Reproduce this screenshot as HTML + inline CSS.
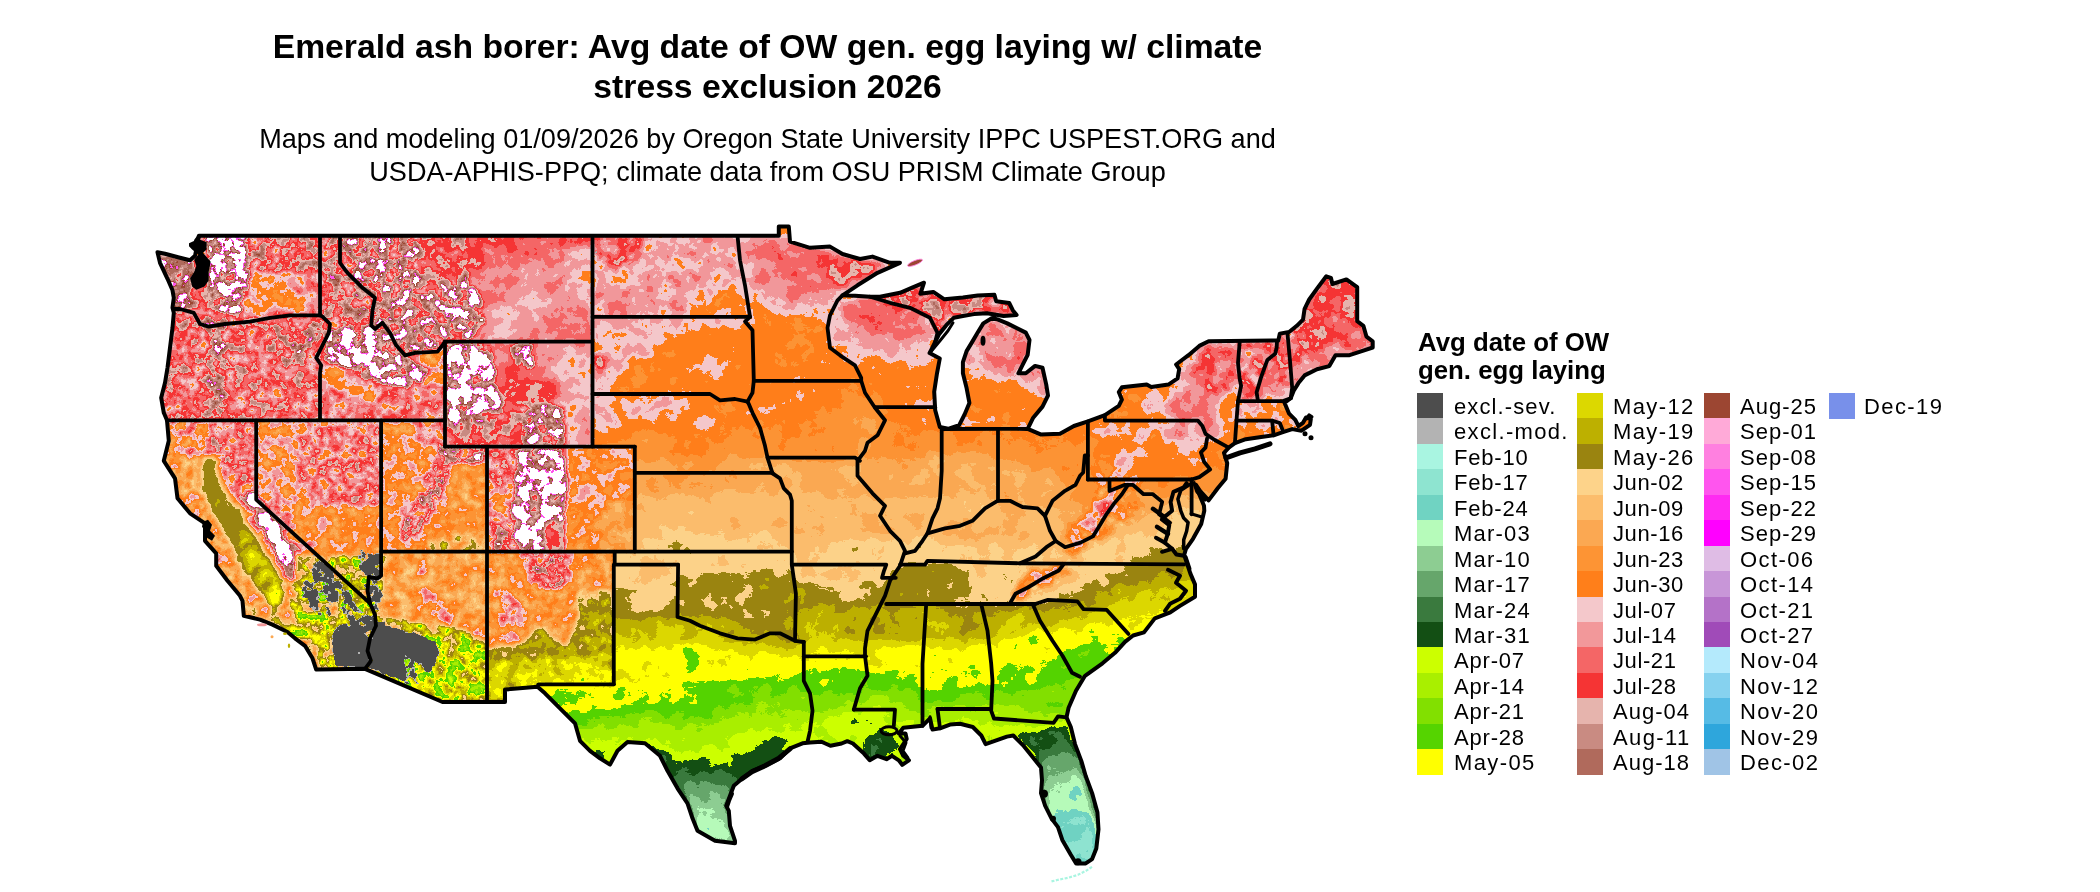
<!DOCTYPE html>
<html><head><meta charset="utf-8"><style>
html,body{margin:0;padding:0;background:#fff;width:2100px;height:892px;}
body{position:relative;font-family:"Liberation Sans",sans-serif;color:#000;}
.map{position:absolute;left:0;top:0;}
.t{position:absolute;left:0;width:1535px;text-align:center;white-space:nowrap;will-change:transform;}
.t1{font-weight:bold;font-size:33.7px;line-height:40px;}
.t2{font-size:27.1px;line-height:32.5px;}
.lt{position:absolute;left:1418px;font-weight:bold;font-size:25.8px;line-height:28.2px;white-space:nowrap;will-change:transform;}
.sw{position:absolute;width:26px;height:25.6px;}
.lb{position:absolute;font-size:22px;line-height:25.44px;height:25.44px;white-space:nowrap;will-change:transform;}
</style></head><body>
<svg class="map" width="2100" height="892" viewBox="0 0 2100 892">
<defs>
<clipPath id="us"><path d="M157.5,251.5 L165.0,253.0 L180.0,257.0 L190.0,259.5 L195.0,255.0 L197.0,245.0 L198.8,235.0 L778.8,235.0 L778.8,225.8 L788.8,225.8 L790.0,240.8 L810.0,247.0 L830.0,245.8 L842.5,253.2 L860.0,258.2 L872.5,255.8 L890.0,262.0 L900.0,262.0 L877.5,272.0 L857.5,284.5 L842.5,294.5 L855.0,295.0 L870.0,296.0 L880.0,296.0 L900.0,292.0 L911.0,287.4 L924.0,281.9 L920.4,293.0 L933.3,291.1 L944.4,298.5 L962.9,296.7 L977.7,294.8 L994.4,293.9 L996.2,300.4 L1009.2,302.2 L1012.9,309.6 L1016.6,314.2 L1003.6,315.2 L987.0,312.4 L974.0,313.3 L962.9,315.2 L953.7,317.0 L946.3,324.4 L938.9,333.7 L931.5,348.5 L929.6,352.2 L939.8,357.7 L937.0,372.5 L934.2,391.0 L935.2,409.5 L939.8,426.2 L948.1,428.0 L959.2,424.3 L964.8,413.2 L969.4,402.1 L966.6,387.3 L962.9,372.5 L962.9,361.4 L966.6,350.3 L972.2,341.1 L977.7,331.8 L983.3,322.6 L992.5,317.0 L998.1,318.9 L1007.3,322.6 L1025.8,331.8 L1029.5,339.2 L1027.7,354.0 L1022.1,365.1 L1018.4,372.5 L1025.8,372.5 L1035.1,365.1 L1042.5,367.0 L1046.2,383.6 L1048.0,394.7 L1042.5,405.8 L1033.2,416.9 L1027.7,428.0 L1040.6,433.6 L1060.0,433.0 L1073.9,425.2 L1087.9,420.6 L1104.9,414.4 L1118.8,405.1 L1121.9,398.9 L1118.8,391.2 L1121.9,386.5 L1146.7,383.8 L1151.3,386.2 L1168.4,383.8 L1177.6,377.6 L1179.2,368.4 L1176.1,363.7 L1188.5,354.4 L1199.3,345.1 L1208.6,340.5 L1278.3,339.7 L1279.8,332.8 L1289.1,331.2 L1296.8,325.0 L1303.0,318.8 L1304.6,308.0 L1309.2,298.7 L1317.0,287.9 L1326.3,275.5 L1330.9,277.0 L1332.4,283.2 L1346.4,278.6 L1357.2,286.3 L1357.2,320.4 L1363.4,325.0 L1366.5,335.9 L1372.7,340.5 L1372.7,346.7 L1363.4,349.8 L1349.5,354.4 L1335.5,354.4 L1329.3,365.3 L1317.0,368.4 L1304.6,374.6 L1298.4,382.3 L1293.7,390.0 L1290.7,397.4 L1284.5,402.0 L1289.1,412.9 L1295.3,419.1 L1298.4,425.2 L1303.0,422.0 L1306.0,416.7 L1310.8,418.3 L1310.0,424.0 L1301.5,429.9 L1292.2,428.3 L1282.9,431.4 L1273.6,434.5 L1261.2,436.1 L1245.8,438.4 L1234.9,442.3 L1228.7,446.9 L1224.0,452.0 L1227.2,462.4 L1225.6,477.9 L1217.9,487.2 L1208.6,499.6 L1200.0,490.0 L1196.0,484.0 L1199.0,493.0 L1204.0,505.0 L1204.3,510.0 L1201.2,523.2 L1193.0,538.0 L1186.0,548.0 L1184.2,554.2 L1190.4,572.8 L1195.0,583.6 L1195.0,596.0 L1179.6,605.3 L1170.3,611.5 L1154.8,617.6 L1144.0,631.6 L1133.1,634.7 L1125.0,641.0 L1115.0,652.0 L1102.5,662.5 L1085.0,675.0 L1076.0,690.0 L1068.6,707.0 L1066.5,716.6 L1070.8,726.2 L1075.0,743.3 L1081.4,760.3 L1085.7,775.2 L1092.1,792.3 L1097.4,811.4 L1098.5,828.5 L1096.3,847.6 L1092.1,858.3 L1085.7,862.6 L1076.1,862.6 L1070.8,854.0 L1062.3,839.1 L1058.0,826.3 L1051.6,817.8 L1045.2,805.0 L1041.0,792.3 L1042.0,779.5 L1041.0,766.7 L1032.4,756.0 L1023.9,745.4 L1013.3,734.7 L1006.9,735.8 L992.0,741.1 L985.6,743.3 L981.3,734.7 L972.8,726.2 L960.0,723.0 L950.0,723.8 L940.0,727.5 L932.5,728.8 L930.0,717.5 L922.5,725.0 L903.3,727.0 L898.8,732.6 L905.5,732.6 L906.7,738.2 L900.0,748.3 L903.3,755.0 L908.9,759.5 L902.2,764.0 L898.8,759.5 L892.0,755.0 L886.5,758.4 L877.5,755.0 L869.7,759.5 L864.0,752.8 L852.9,742.7 L847.3,740.4 L841.6,742.7 L830.4,745.0 L821.5,741.0 L810.0,741.6 L802.5,742.5 L790.0,747.5 L780.0,757.5 L765.0,765.0 L752.5,770.0 L742.5,777.5 L733.8,785.0 L730.0,795.0 L726.2,805.0 L728.8,810.0 L730.0,825.0 L735.0,840.0 L735.0,842.5 L715.0,840.0 L697.5,830.0 L692.5,817.5 L687.5,802.5 L677.5,787.5 L667.5,770.0 L660.0,755.0 L645.0,742.5 L627.5,741.2 L617.5,750.0 L610.0,763.8 L600.0,757.5 L590.0,750.0 L580.0,740.0 L575.0,722.5 L560.0,707.5 L545.0,692.5 L537.5,686.0 L505.0,688.8 L505.0,701.2 L442.5,701.2 L365.0,668.0 L316.2,668.8 L312.5,657.5 L305.0,645.0 L295.0,637.5 L287.5,631.2 L272.5,623.8 L260.0,618.8 L243.8,615.0 L242.5,600.0 L240.0,595.0 L227.5,580.0 L216.2,565.0 L216.2,552.5 L205.0,540.0 L205.0,522.5 L190.0,512.5 L177.5,497.5 L175.0,477.5 L163.8,460.0 L168.8,440.0 L167.0,419.5 L163.8,412.0 L161.2,397.0 L165.0,382.0 L167.5,367.0 L170.0,347.0 L172.5,327.0 L173.8,312.0 L172.5,307.0 L173.8,297.0 L172.5,289.5 L167.5,278.0 L160.0,262.0 Z"/></clipPath>
<clipPath id="wr"><path d="M140.0,200.0 L592.5,200.0 L592.5,445.8 L634.8,445.8 L634.8,550.8 L614.7,550.8 L613.8,683.5 L538.3,683.5 L538.3,900.0 L140.0,900.0 Z"/></clipPath>
<filter id="fe" x="140" y="200" width="1260" height="700" filterUnits="userSpaceOnUse" color-interpolation-filters="sRGB">
<feGaussianBlur in="SourceGraphic" stdDeviation="4" result="b"/>
<feColorMatrix in="b" type="matrix" values="1 0 0 0 0 1 0 0 0 0 1 0 0 0 0 0 0 0 0 1" result="base"/>
<feColorMatrix in="b" type="matrix" values="0 1 0 0 0 0 1 0 0 0 0 1 0 0 0 0 0 0 0 1" result="ah"/>
<feColorMatrix in="b" type="matrix" values="0 0 1 0 0 0 0 1 0 0 0 0 1 0 0 0 0 0 0 1" result="al"/>
<feTurbulence type="fractalNoise" baseFrequency="0.07" numOctaves="3" seed="7"/>
<feColorMatrix type="matrix" values="1 0 0 0 0 1 0 0 0 0 1 0 0 0 0 0 0 0 0 1" result="nh"/>
<feTurbulence type="fractalNoise" baseFrequency="0.018" numOctaves="3" seed="3"/>
<feColorMatrix type="matrix" values="1 0 0 0 0 1 0 0 0 0 1 0 0 0 0 0 0 0 0 1" result="nl"/>
<feComposite in="nh" in2="ah" operator="arithmetic" k1="1" k2="0" k3="-0.5" k4="0.5" result="th"/>
<feComposite in="nl" in2="al" operator="arithmetic" k1="1" k2="0" k3="-0.5" k4="0.5" result="tl"/>
<feComposite in="base" in2="th" operator="arithmetic" k1="0" k2="1" k3="1.0" k4="-0.5" result="f1"/>
<feComposite in="f1" in2="tl" operator="arithmetic" k1="0" k2="1" k3="1.0" k4="-0.5" result="f2"/>
<feComponentTransfer in="f2">
<feFuncR type="discrete" tableValues="0.663 0.663 0.557 0.557 0.439 0.439 0.714 0.714 0.553 0.553 0.400 0.400 0.227 0.227 0.075 0.075 0.800 0.800 0.663 0.663 0.510 0.510 0.333 0.333 1.000 1.000 0.863 0.863 0.741 0.741 0.604 0.604 0.992 0.992 0.988 0.988 0.984 0.984 0.992 0.992 1.000 1.000 0.957 0.957 0.949 0.949 0.957 0.957 0.961 0.961 0.902 0.902 0.788 0.788 0.690 0.690 0.612 1.000 1.000 1.000 1.000 1.000 1.000 1.000 1.000 1.000"/>
<feFuncG type="discrete" tableValues="0.961 0.961 0.894 0.894 0.827 0.827 0.984 0.984 0.804 0.804 0.651 0.651 0.478 0.478 0.310 0.310 1.000 1.000 0.937 0.937 0.878 0.878 0.831 0.831 1.000 1.000 0.847 0.847 0.690 0.690 0.518 0.518 0.827 0.827 0.741 0.741 0.659 0.659 0.580 0.580 0.498 0.498 0.784 0.784 0.596 0.596 0.400 0.400 0.204 0.204 0.706 0.706 0.545 0.545 0.416 0.416 0.275 0.333 1.000 1.000 1.000 1.000 1.000 1.000 1.000 1.000"/>
<feFuncB type="discrete" tableValues="0.882 0.882 0.816 0.816 0.761 0.761 0.729 0.729 0.573 0.573 0.420 0.420 0.243 0.243 0.078 0.078 0.000 0.000 0.000 0.000 0.000 0.000 0.000 0.000 0.000 0.000 0.000 0.000 0.000 0.000 0.063 0.063 0.541 0.541 0.424 0.424 0.322 0.322 0.204 0.204 0.102 0.102 0.796 0.796 0.604 0.604 0.400 0.400 0.204 0.204 0.678 0.678 0.510 0.510 0.361 0.361 0.196 0.933 1.000 1.000 1.000 1.000 1.000 1.000 1.000 1.000"/>
<feFuncA type="linear" slope="0" intercept="1"/>
</feComponentTransfer>
</filter>
<filter id="fw" x="140" y="200" width="1260" height="700" filterUnits="userSpaceOnUse" color-interpolation-filters="sRGB">
<feGaussianBlur in="SourceGraphic" stdDeviation="2.0" result="b"/>
<feColorMatrix in="b" type="matrix" values="1 0 0 0 0 1 0 0 0 0 1 0 0 0 0 0 0 0 0 1" result="base"/>
<feColorMatrix in="b" type="matrix" values="0 1 0 0 0 0 1 0 0 0 0 1 0 0 0 0 0 0 0 1" result="ah"/>
<feColorMatrix in="b" type="matrix" values="0 0 1 0 0 0 0 1 0 0 0 0 1 0 0 0 0 0 0 1" result="al"/>
<feTurbulence type="fractalNoise" baseFrequency="0.085" numOctaves="4" seed="5"/>
<feColorMatrix type="matrix" values="1 0 0 0 0 1 0 0 0 0 1 0 0 0 0 0 0 0 0 1" result="nh"/>
<feTurbulence type="fractalNoise" baseFrequency="0.02" numOctaves="2" seed="9"/>
<feColorMatrix type="matrix" values="1 0 0 0 0 1 0 0 0 0 1 0 0 0 0 0 0 0 0 1" result="nl"/>
<feComposite in="nh" in2="ah" operator="arithmetic" k1="1" k2="0" k3="-0.5" k4="0.5" result="th"/>
<feComposite in="nl" in2="al" operator="arithmetic" k1="1" k2="0" k3="-0.5" k4="0.5" result="tl"/>
<feComposite in="base" in2="th" operator="arithmetic" k1="0" k2="1" k3="1.0" k4="-0.5" result="f1"/>
<feComposite in="f1" in2="tl" operator="arithmetic" k1="0" k2="1" k3="1.0" k4="-0.5" result="f2"/>
<feComponentTransfer in="f2">
<feFuncR type="discrete" tableValues="0.663 0.663 0.557 0.557 0.439 0.439 0.714 0.714 0.553 0.553 0.400 0.400 0.227 0.227 0.075 0.075 0.800 0.800 0.663 0.663 0.510 0.510 0.333 0.333 1.000 1.000 0.863 0.863 0.741 0.741 0.604 0.604 0.992 0.992 0.988 0.988 0.984 0.984 0.992 0.992 1.000 1.000 0.957 0.957 0.949 0.949 0.957 0.957 0.961 0.961 0.902 0.902 0.788 0.788 0.690 0.690 0.612 1.000 1.000 1.000 1.000 1.000 1.000 1.000 1.000 1.000"/>
<feFuncG type="discrete" tableValues="0.961 0.961 0.894 0.894 0.827 0.827 0.984 0.984 0.804 0.804 0.651 0.651 0.478 0.478 0.310 0.310 1.000 1.000 0.937 0.937 0.878 0.878 0.831 0.831 1.000 1.000 0.847 0.847 0.690 0.690 0.518 0.518 0.827 0.827 0.741 0.741 0.659 0.659 0.580 0.580 0.498 0.498 0.784 0.784 0.596 0.596 0.400 0.400 0.204 0.204 0.706 0.706 0.545 0.545 0.416 0.416 0.275 0.333 1.000 1.000 1.000 1.000 1.000 1.000 1.000 1.000"/>
<feFuncB type="discrete" tableValues="0.882 0.882 0.816 0.816 0.761 0.761 0.729 0.729 0.573 0.573 0.420 0.420 0.243 0.243 0.078 0.078 0.000 0.000 0.000 0.000 0.000 0.000 0.000 0.000 0.000 0.000 0.000 0.000 0.000 0.000 0.063 0.063 0.541 0.541 0.424 0.424 0.322 0.322 0.204 0.204 0.102 0.102 0.796 0.796 0.604 0.604 0.400 0.400 0.204 0.204 0.678 0.678 0.510 0.510 0.361 0.361 0.196 0.933 1.000 1.000 1.000 1.000 1.000 1.000 1.000 1.000"/>
<feFuncA type="linear" slope="0" intercept="1"/>
</feComponentTransfer>
</filter>
<filter id="fg" x="140" y="200" width="1260" height="700" filterUnits="userSpaceOnUse" color-interpolation-filters="sRGB">
<feGaussianBlur in="SourceGraphic" stdDeviation="2" result="b"/>
<feColorMatrix in="b" type="matrix" values="1 0 0 0 0 1 0 0 0 0 1 0 0 0 0 0 0 0 0 1" result="base"/>
<feTurbulence type="fractalNoise" baseFrequency="0.11" numOctaves="3" seed="11"/>
<feColorMatrix type="matrix" values="1 0 0 0 0 1 0 0 0 0 1 0 0 0 0 0 0 0 0 1" result="n"/>
<feComposite in="base" in2="n" operator="arithmetic" k1="0" k2="1" k3="1.0" k4="-0.5" result="v"/>
<feColorMatrix in="v" type="matrix" values="1 0 0 0 0 1 0 0 0 0 1 0 0 0 0 1 0 0 0 0"/>
<feComponentTransfer>
<feFuncR type="discrete" tableValues="0 0 0 0 0 0 0 0 0 0.702 0.302 0.302 0.302 0.302 0.302 0.302 0.302 0.302 0.302 0.302"/>
<feFuncG type="discrete" tableValues="0 0 0 0 0 0 0 0 0 0.702 0.302 0.302 0.302 0.302 0.302 0.302 0.302 0.302 0.302 0.302"/>
<feFuncB type="discrete" tableValues="0 0 0 0 0 0 0 0 0 0.702 0.302 0.302 0.302 0.302 0.302 0.302 0.302 0.302 0.302 0.302"/>
<feFuncA type="discrete" tableValues="0 0 0 0 0 0 0 0 0 1 1 1 1 1 1 1 1 1 1 1"/>
</feComponentTransfer>
</filter>
</defs>
<g transform="translate(0,0.8)">
<g clip-path="url(#us)">
<g filter="url(#fe)">
<polygon points="520.0,200.0 1400.0,200.0 1400.0,900.0 520.0,900.0" fill="rgb(157,13,20)"/>
<polygon points="520.0,455.0 600.0,445.0 650.0,435.0 700.0,430.0 740.0,425.0 770.0,415.0 800.0,412.0 850.0,410.0 870.0,420.0 900.0,425.0 940.0,428.0 1000.0,428.0 1050.0,440.0 1088.0,445.0 1088.0,480.0 1150.0,480.0 1200.0,470.0 1240.0,455.0 1400.0,455.0 1400.0,900.0 520.0,900.0" fill="rgb(151,13,20)"/>
<polygon points="520.0,478.0 600.0,470.0 640.0,462.0 700.0,456.0 760.0,458.0 800.0,462.0 850.0,462.0 900.0,455.0 940.0,452.0 970.0,448.0 1000.0,462.0 1050.0,470.0 1088.0,485.0 1150.0,492.0 1200.0,490.0 1400.0,490.0 1400.0,900.0 520.0,900.0" fill="rgb(143,13,20)"/>
<polygon points="520.0,505.0 640.0,495.0 700.0,490.0 780.0,492.0 850.0,495.0 900.0,497.0 940.0,492.0 1000.0,502.0 1040.0,505.0 1088.0,508.0 1150.0,508.0 1200.0,500.0 1400.0,500.0 1400.0,900.0 520.0,900.0" fill="rgb(135,13,20)"/>
<polygon points="520.0,555.0 600.0,545.0 650.0,540.0 700.0,536.0 760.0,530.0 800.0,535.0 850.0,540.0 880.0,535.0 920.0,535.0 960.0,540.0 1000.0,540.0 1040.0,545.0 1100.0,540.0 1150.0,528.0 1180.0,515.0 1400.0,515.0 1400.0,900.0 520.0,900.0" fill="rgb(128,13,20)"/>
<polygon points="520.0,600.0 600.0,588.0 640.0,585.0 680.0,572.0 720.0,572.0 760.0,570.0 790.0,572.0 800.0,578.0 830.0,580.0 865.0,578.0 880.0,572.0 900.0,565.0 940.0,564.0 975.0,568.0 985.0,585.0 1000.0,605.0 1040.0,603.0 1060.0,590.0 1080.0,580.0 1110.0,570.0 1140.0,556.0 1160.0,546.0 1400.0,540.0 1400.0,900.0 520.0,900.0" fill="rgb(120,13,20)"/>
<polygon points="520.0,622.0 600.0,614.0 650.0,618.0 700.0,615.0 750.0,622.0 790.0,615.0 830.0,606.0 870.0,605.0 900.0,605.0 940.0,604.0 1000.0,610.0 1040.0,606.0 1060.0,604.0 1100.0,590.0 1140.0,578.0 1180.0,575.0 1400.0,575.0 1400.0,900.0 520.0,900.0" fill="rgb(112,13,20)"/>
<polygon points="520.0,640.0 600.0,636.0 650.0,642.0 700.0,640.0 750.0,640.0 800.0,642.0 850.0,640.0 900.0,640.0 950.0,643.0 1000.0,638.0 1040.0,626.0 1080.0,615.0 1120.0,602.0 1150.0,592.0 1190.0,588.0 1400.0,588.0 1400.0,900.0 520.0,900.0" fill="rgb(104,13,20)"/>
<polygon points="520.0,652.0 600.0,652.0 640.0,650.0 660.0,645.0 700.0,645.0 760.0,650.0 800.0,655.0 840.0,655.0 880.0,645.0 920.0,645.0 960.0,648.0 1000.0,640.0 1040.0,632.0 1080.0,625.0 1110.0,618.0 1140.0,612.0 1400.0,610.0 1400.0,900.0 520.0,900.0" fill="rgb(97,13,20)"/>
<polygon points="520.0,692.0 600.0,690.0 630.0,683.0 660.0,682.0 700.0,680.0 740.0,680.0 780.0,678.0 810.0,666.0 850.0,666.0 880.0,668.0 910.0,670.0 950.0,669.0 990.0,668.0 1020.0,665.0 1050.0,655.0 1070.0,648.0 1100.0,640.0 1400.0,640.0 1400.0,900.0 520.0,900.0" fill="rgb(89,13,20)"/>
<polygon points="520.0,715.0 600.0,712.0 650.0,710.0 700.0,710.0 750.0,705.0 800.0,690.0 850.0,692.0 900.0,690.0 950.0,690.0 1000.0,690.0 1040.0,690.0 1070.0,680.0 1400.0,680.0 1400.0,900.0 520.0,900.0" fill="rgb(81,13,20)"/>
<polygon points="520.0,730.0 650.0,725.0 700.0,722.0 760.0,715.0 820.0,705.0 880.0,705.0 940.0,705.0 1000.0,705.0 1040.0,710.0 1400.0,710.0 1400.0,900.0 520.0,900.0" fill="rgb(73,13,20)"/>
<polygon points="520.0,745.0 640.0,742.0 680.0,738.0 720.0,735.0 760.0,730.0 800.0,720.0 850.0,715.0 900.0,718.0 950.0,718.0 1000.0,720.0 1040.0,726.0 1400.0,726.0 1400.0,900.0 520.0,900.0" fill="rgb(66,13,20)"/>
<polygon points="640.0,748.0 654.0,747.0 676.0,757.0 701.0,752.0 728.0,755.0 745.0,750.0 760.0,744.0 776.0,735.0 790.0,736.0 815.0,738.0 800.0,752.0 780.0,762.0 760.0,772.0 745.0,782.0 735.0,790.0 700.0,790.0 680.0,778.0 665.0,770.0" fill="rgb(56,13,20)"/>
<polygon points="665.0,767.0 692.0,762.0 718.0,767.0 735.0,774.0 745.0,782.0 731.0,789.0 717.0,786.0 701.0,781.0 684.0,777.0 672.0,781.0" fill="rgb(50,13,20)"/>
<polygon points="670.0,780.0 684.0,777.0 701.0,781.0 717.0,786.0 731.0,789.0 735.0,800.0 727.0,804.0 718.0,804.0 701.0,801.0 687.0,797.0" fill="rgb(42,13,20)"/>
<polygon points="684.0,795.0 701.0,801.0 718.0,804.0 728.0,804.0 735.0,815.0 731.0,821.0 721.0,819.0 709.0,821.0 694.0,818.0" fill="rgb(35,13,20)"/>
<polygon points="690.0,815.0 709.0,821.0 721.0,819.0 731.0,821.0 740.0,848.0 700.0,845.0" fill="rgb(27,13,20)"/>
<polygon points="864.0,735.0 885.0,729.0 899.0,733.0 903.0,760.0 880.0,764.0 864.0,760.0" fill="rgb(56,13,20)"/>
<polygon points="1015.0,735.0 1040.0,728.0 1055.0,724.0 1070.0,718.0 1075.0,735.0 1072.0,742.0 1050.0,748.0 1040.0,752.0 1030.0,752.0" fill="rgb(56,13,20)"/>
<polygon points="1035.0,752.0 1050.0,748.0 1072.0,742.0 1078.0,752.0 1060.0,757.0 1040.0,760.0" fill="rgb(50,13,20)"/>
<polygon points="1038.0,760.0 1060.0,757.0 1078.0,752.0 1083.0,766.0 1060.0,770.0 1040.0,772.0" fill="rgb(42,13,20)"/>
<polygon points="1040.0,772.0 1060.0,770.0 1083.0,766.0 1086.0,778.0 1060.0,780.0 1040.0,782.0" fill="rgb(35,13,20)"/>
<polygon points="1040.0,782.0 1060.0,780.0 1086.0,778.0 1094.0,812.0 1060.0,815.0 1045.0,816.0" fill="rgb(27,13,20)"/>
<polygon points="1045.0,816.0 1060.0,815.0 1094.0,812.0 1100.0,836.0 1080.0,838.0 1055.0,840.0" fill="rgb(19,13,20)"/>
<polygon points="1055.0,840.0 1080.0,838.0 1100.0,836.0 1100.0,872.0 1055.0,872.0" fill="rgb(12,13,20)"/>
<polygon points="592.0,230.0 745.0,230.0 750.0,316.0 592.0,316.0" fill="rgb(170,38,20)"/>
<polygon points="592.0,236.0 640.0,236.0 650.0,250.0 630.0,262.0 600.0,268.0 592.0,265.0" fill="rgb(182,76,20)"/>
<polygon points="700.0,292.0 745.0,280.0 752.0,316.0 690.0,316.0" fill="rgb(158,26,20)"/>
<polygon points="592.0,316.0 745.0,316.0 740.0,322.0 700.0,328.0 670.0,335.0 660.0,350.0 640.0,362.0 620.0,370.0 612.0,380.0 600.0,392.0 592.0,392.0" fill="rgb(166,26,20)"/>
<polygon points="593.0,352.0 605.0,352.0 606.0,368.0 595.0,370.0" fill="rgb(205,102,20)"/>
<polygon points="592.0,394.0 690.0,394.0 680.0,405.0 650.0,418.0 610.0,425.0 592.0,428.0" fill="rgb(166,26,20)"/>
<polygon points="738.0,236.0 790.0,236.0 800.0,250.0 845.0,280.0 842.0,296.0 830.0,315.0 830.0,322.0 800.0,322.0 782.0,318.0 760.0,300.0 745.0,280.0 738.0,270.0" fill="rgb(166,26,20)"/>
<polygon points="750.0,240.0 790.0,240.0 840.0,262.0 842.0,296.0 830.0,312.0 790.0,305.0 760.0,285.0 752.0,260.0" fill="rgb(174,26,20)"/>
<polygon points="765.0,240.0 790.0,240.0 830.0,252.0 845.0,270.0 840.0,290.0 815.0,290.0 790.0,280.0 770.0,260.0" fill="rgb(182,26,20)"/>
<polygon points="815.0,250.0 860.0,258.0 875.0,262.0 860.0,280.0 845.0,290.0 830.0,285.0" fill="rgb(189,38,20)"/>
<polygon points="848.0,262.0 890.0,262.0 875.0,275.0 850.0,282.0" fill="rgb(197,51,20)"/>
<polygon points="830.0,300.0 870.0,296.0 930.0,318.0 937.0,340.0 935.0,365.0 920.0,362.0 890.0,356.0 870.0,352.0 850.0,340.0 830.0,342.0" fill="rgb(166,26,20)"/>
<polygon points="838.0,300.0 870.0,296.0 925.0,318.0 930.0,338.0 900.0,345.0 860.0,335.0 840.0,325.0" fill="rgb(174,26,20)"/>
<polygon points="845.0,300.0 870.0,297.0 910.0,310.0 925.0,330.0 900.0,336.0 870.0,330.0 850.0,318.0" fill="rgb(182,26,20)"/>
<polygon points="870.0,285.0 1020.0,285.0 1020.0,318.0 940.0,335.0 930.0,318.0 880.0,302.0" fill="rgb(189,76,20)"/>
<polygon points="950.0,310.0 1000.0,313.0 990.0,318.0 945.0,330.0" fill="rgb(182,76,20)"/>
<polygon points="960.0,310.0 1050.0,310.0 1050.0,398.0 1045.0,395.0 1030.0,385.0 1020.0,378.0 1000.0,376.0 975.0,378.0 962.0,385.0" fill="rgb(174,38,20)"/>
<polygon points="962.0,360.0 1000.0,366.0 1030.0,372.0 1046.0,390.0 1030.0,385.0 1020.0,378.0 1000.0,376.0 975.0,378.0 962.0,385.0" fill="rgb(166,26,20)"/>
<polygon points="1120.0,385.0 1175.0,375.0 1200.0,340.0 1240.0,338.0 1240.0,445.0 1228.0,447.0 1214.0,439.0 1205.0,433.0 1198.0,420.0 1170.0,412.0 1140.0,408.0 1120.0,405.0" fill="rgb(168,31,20)"/>
<polygon points="1118.0,384.0 1185.0,380.0 1185.0,395.0 1150.0,398.0 1140.0,412.0 1118.0,412.0" fill="rgb(158,26,20)"/>
<polygon points="1222.0,388.0 1240.0,385.0 1240.0,450.0 1222.0,450.0 1214.0,425.0" fill="rgb(157,26,20)"/>
<polygon points="1197.0,347.0 1233.0,345.0 1235.0,390.0 1205.0,392.0 1195.0,370.0" fill="rgb(185,51,20)"/>
<polygon points="1170.0,400.0 1215.0,400.0 1215.0,430.0 1170.0,425.0" fill="rgb(174,26,20)"/>
<polygon points="1239.0,338.0 1277.0,336.0 1262.0,378.0 1258.0,400.0 1239.0,400.0" fill="rgb(182,76,20)"/>
<polygon points="1273.0,333.0 1295.0,325.0 1292.0,385.0 1285.0,400.0 1262.0,400.0 1262.0,378.0" fill="rgb(182,76,20)"/>
<polygon points="1262.0,385.0 1292.0,385.0 1290.0,400.0 1262.0,400.0" fill="rgb(170,38,20)"/>
<polygon points="1290.0,330.0 1310.0,295.0 1330.0,268.0 1365.0,275.0 1362.0,320.0 1330.0,340.0 1300.0,345.0" fill="rgb(189,38,20)"/>
<polygon points="1300.0,340.0 1362.0,318.0 1378.0,345.0 1350.0,352.0 1320.0,360.0 1300.0,370.0" fill="rgb(182,38,20)"/>
<polygon points="1292.0,358.0 1320.0,352.0 1378.0,345.0 1360.0,358.0 1320.0,372.0 1295.0,392.0" fill="rgb(174,38,20)"/>
<polygon points="1292.0,328.0 1312.0,328.0 1312.0,361.0 1292.0,361.0" fill="rgb(193,76,20)"/>
<polygon points="1239.0,399.0 1256.0,399.0 1256.0,419.0 1239.0,419.0" fill="rgb(166,51,20)"/>
<polygon points="1256.0,397.0 1292.0,396.0 1300.0,410.0 1315.0,418.0 1300.0,436.0 1260.0,444.0 1236.0,446.0 1236.0,424.0 1256.0,420.0" fill="rgb(155,38,20)"/>
<polygon points="1088.0,420.0 1198.0,420.0 1205.0,433.0 1200.0,442.0 1180.0,440.0 1150.0,438.0 1120.0,436.0 1095.0,438.0 1088.0,438.0" fill="rgb(166,38,20)"/>
<polygon points="1108.0,478.0 1118.0,478.0 1135.0,458.0 1158.0,440.0 1150.0,436.0 1128.0,448.0 1110.0,465.0" fill="rgb(166,38,20)"/>
<polygon points="1100.0,470.0 1130.0,470.0 1140.0,485.0 1125.0,500.0 1108.0,512.0 1085.0,530.0 1070.0,540.0 1060.0,535.0 1080.0,515.0 1095.0,495.0" fill="rgb(160,76,20)"/>
<polygon points="1070.0,538.0 1100.0,525.0 1120.0,510.0 1135.0,500.0 1145.0,502.0 1130.0,520.0 1105.0,535.0 1085.0,548.0 1070.0,556.0 1062.0,550.0" fill="rgb(152,76,20)"/>
<polygon points="1085.0,525.0 1100.0,510.0 1110.0,502.0 1115.0,504.0 1105.0,518.0 1092.0,530.0" fill="rgb(174,128,20)"/>
<polygon points="1030.0,570.0 1060.0,562.0 1080.0,558.0 1075.0,566.0 1055.0,580.0 1035.0,592.0 1015.0,600.0 1010.0,598.0 1020.0,585.0" fill="rgb(154,102,20)"/>
<polygon points="1040.0,580.0 1058.0,568.0 1062.0,571.0 1045.0,585.0" fill="rgb(174,128,20)"/>
</g>
<g clip-path="url(#wr)"><g filter="url(#fw)">
<polygon points="140.0,200.0 640.0,200.0 640.0,900.0 140.0,900.0" fill="rgb(155,71,0)"/>
<polygon points="150.0,245.0 195.0,250.0 195.0,310.0 170.0,315.0 150.0,300.0" fill="rgb(211,89,0)"/>
<polygon points="193.0,255.0 212.0,255.0 214.0,310.0 195.0,312.0" fill="rgb(185,54,0)"/>
<polygon points="205.0,232.0 250.0,232.0 248.0,300.0 235.0,322.0 215.0,322.0 210.0,290.0" fill="rgb(224,133,0)"/>
<polygon points="245.0,232.0 322.0,232.0 322.0,275.0 290.0,272.0 260.0,272.0 248.0,280.0" fill="rgb(189,89,0)"/>
<polygon points="280.0,275.0 322.0,275.0 322.0,316.0 300.0,316.0 305.0,295.0 285.0,285.0" fill="rgb(171,54,0)"/>
<polygon points="253.0,271.0 268.0,271.0 279.0,286.0 305.0,295.0 310.0,300.0 300.0,311.0 258.0,314.0 240.0,304.0 245.0,295.0 254.0,286.0" fill="rgb(158,43,0)"/>
<polygon points="158.0,312.0 322.0,312.0 322.0,420.0 158.0,420.0" fill="rgb(182,82,0)"/>
<polygon points="205.0,318.0 225.0,318.0 228.0,360.0 222.0,418.0 205.0,418.0 208.0,360.0" fill="rgb(201,107,0)"/>
<polygon points="270.0,325.0 322.0,320.0 322.0,360.0 290.0,365.0 270.0,350.0" fill="rgb(193,107,0)"/>
<polygon points="320.0,232.0 345.0,232.0 360.0,285.0 375.0,300.0 372.0,325.0 340.0,335.0 320.0,330.0" fill="rgb(192,99,0)"/>
<polygon points="325.0,330.0 372.0,325.0 390.0,335.0 405.0,355.0 430.0,370.0 420.0,385.0 380.0,385.0 350.0,370.0 325.0,365.0" fill="rgb(220,133,0)"/>
<polygon points="320.0,365.0 350.0,368.0 380.0,388.0 420.0,384.0 445.0,380.0 445.0,420.0 320.0,420.0" fill="rgb(176,71,0)"/>
<polygon points="320.0,360.0 335.0,365.0 360.0,384.0 378.0,394.0 372.0,402.0 350.0,398.0 330.0,386.0 320.0,378.0" fill="rgb(158,43,0)"/>
<polygon points="340.0,232.0 470.0,232.0 470.0,300.0 450.0,345.0 400.0,355.0 375.0,330.0 372.0,300.0 360.0,285.0" fill="rgb(203,125,0)"/>
<polygon points="465.0,232.0 592.5,232.0 592.5,341.0 445.0,341.0 460.0,320.0 470.0,300.0" fill="rgb(173,20,38)"/>
<polygon points="465.0,232.0 592.5,232.0 592.5,262.0 470.0,268.0" fill="rgb(180,26,51)"/>
<polygon points="418.0,236.0 465.0,236.0 470.0,260.0 460.0,288.0 430.0,290.0 418.0,270.0" fill="rgb(189,51,0)"/>
<polygon points="440.0,280.0 478.0,285.0 485.0,320.0 470.0,338.0 445.0,335.0" fill="rgb(212,128,0)"/>
<polygon points="445.0,341.0 592.5,341.0 592.5,446.0 445.0,446.0" fill="rgb(174,20,38)"/>
<polygon points="480.0,380.0 560.0,380.0 560.0,405.0 480.0,405.0" fill="rgb(182,26,51)"/>
<polygon points="453.0,407.0 520.0,410.0 569.0,420.0 569.0,446.0 453.0,446.0" fill="rgb(188,51,38)"/>
<polygon points="446.0,380.0 505.0,400.0 500.0,425.0 446.0,428.0" fill="rgb(205,102,0)"/>
<polygon points="446.0,343.0 490.0,343.0 495.0,372.0 500.0,405.0 480.0,410.0 455.0,420.0 446.0,420.0" fill="rgb(225,140,0)"/>
<polygon points="510.0,344.0 532.0,344.0 534.0,367.0 520.0,368.0" fill="rgb(220,128,0)"/>
<polygon points="520.0,402.0 564.0,405.0 564.0,446.0 525.0,446.0" fill="rgb(209,128,0)"/>
<polygon points="256.0,420.0 381.0,420.0 381.0,575.0 370.0,600.0 256.0,498.0" fill="rgb(162,89,0)"/>
<polygon points="300.0,425.0 381.0,425.0 381.0,505.0 350.0,510.0 310.0,500.0 300.0,470.0" fill="rgb(176,89,0)"/>
<polygon points="258.0,425.0 300.0,425.0 300.0,500.0 258.0,500.0" fill="rgb(161,71,0)"/>
<polygon points="290.0,505.0 381.0,505.0 381.0,555.0 330.0,555.0 300.0,530.0" fill="rgb(155,61,0)"/>
<polygon points="381.0,420.0 445.0,420.0 445.0,446.0 487.0,446.0 487.0,551.0 381.0,551.0" fill="rgb(157,61,0)"/>
<polygon points="410.0,420.0 445.0,420.0 445.0,446.0 420.0,446.0" fill="rgb(170,89,0)"/>
<polygon points="440.0,445.0 455.0,450.0 445.0,490.0 420.0,530.0 405.0,540.0 400.0,530.0 420.0,490.0 435.0,460.0" fill="rgb(189,143,0)"/>
<polygon points="445.0,447.0 485.0,447.0 485.0,462.0 445.0,462.0" fill="rgb(205,143,0)"/>
<polygon points="450.0,465.0 487.0,465.0 487.0,551.0 450.0,551.0" fill="rgb(147,61,0)"/>
<polygon points="430.0,540.0 470.0,535.0 487.0,545.0 487.0,551.0 430.0,551.0" fill="rgb(128,89,0)"/>
<polygon points="487.0,446.0 635.0,446.0 635.0,551.0 487.0,551.0" fill="rgb(155,43,0)"/>
<polygon points="565.0,446.0 635.0,446.0 635.0,490.0 565.0,490.0" fill="rgb(158,36,0)"/>
<polygon points="600.0,500.0 635.0,500.0 635.0,551.0 600.0,551.0" fill="rgb(143,36,0)"/>
<polygon points="489.0,448.0 520.0,448.0 520.0,484.0 489.0,484.0" fill="rgb(182,82,0)"/>
<polygon points="489.0,484.0 510.0,484.0 510.0,520.0 489.0,520.0" fill="rgb(162,82,0)"/>
<polygon points="489.0,520.0 520.0,520.0 520.0,551.0 489.0,551.0" fill="rgb(189,125,0)"/>
<polygon points="520.0,448.0 565.0,448.0 568.0,480.0 565.0,510.0 565.0,551.0 520.0,551.0 510.0,520.0 515.0,480.0" fill="rgb(222,115,0)"/>
<polygon points="545.0,520.0 563.0,520.0 563.0,548.0 545.0,548.0" fill="rgb(189,36,0)"/>
<polygon points="575.0,483.0 605.0,485.0 605.0,507.0 580.0,505.0" fill="rgb(166,36,0)"/>
<polygon points="381.0,551.0 487.0,551.0 487.0,625.0 381.0,625.0" fill="rgb(143,61,0)"/>
<polygon points="418.0,556.0 425.0,556.0 425.0,575.0 418.0,575.0" fill="rgb(170,71,0)"/>
<polygon points="415.0,588.0 425.0,585.0 455.0,615.0 450.0,625.0 430.0,612.0" fill="rgb(170,89,0)"/>
<polygon points="469.0,624.0 484.0,624.0 484.0,642.0 469.0,642.0" fill="rgb(174,107,0)"/>
<polygon points="387.0,617.0 467.0,630.0 487.0,640.0 487.0,660.0 440.0,650.0 387.0,640.0" fill="rgb(108,107,0)"/>
<polygon points="385.0,630.0 487.0,655.0 487.0,701.0 440.0,701.0 385.0,680.0" fill="rgb(97,89,0)"/>
<polygon points="450.0,640.0 487.0,640.0 487.0,701.0 450.0,701.0" fill="rgb(97,102,0)"/>
<polygon points="487.0,551.0 614.0,551.0 614.0,651.0 487.0,651.0" fill="rgb(149,61,0)"/>
<polygon points="521.0,552.0 575.0,552.0 572.0,575.0 555.0,590.0 530.0,585.0" fill="rgb(182,125,0)"/>
<polygon points="496.0,590.0 520.0,590.0 522.0,645.0 500.0,640.0" fill="rgb(166,89,0)"/>
<polygon points="575.0,590.0 614.0,590.0 614.0,630.0 584.0,632.0" fill="rgb(120,54,0)"/>
<polygon points="487.0,648.0 521.0,643.0 539.0,626.0 566.0,645.0 580.0,613.0 614.0,600.0 614.0,690.0 487.0,701.0" fill="rgb(114,38,0)"/>
<polygon points="487.0,662.0 540.0,658.0 614.0,652.0 614.0,690.0 487.0,701.0" fill="rgb(104,38,0)"/>
<polygon points="530.0,675.0 614.0,668.0 614.0,690.0 530.0,692.0" fill="rgb(97,26,0)"/>
<polygon points="158.0,420.0 256.0,420.0 256.0,500.0 240.0,500.0 205.0,460.0 190.0,440.0" fill="rgb(178,99,0)"/>
<polygon points="158.0,420.0 207.0,420.0 207.0,453.0 175.0,480.0 158.0,470.0" fill="rgb(162,99,0)"/>
<polygon points="160.0,455.0 201.0,455.0 201.0,490.0 230.0,545.0 265.0,590.0 284.0,605.0 290.0,615.0 270.0,615.0 240.0,605.0 215.0,565.0 205.0,540.0 190.0,512.0 175.0,480.0" fill="rgb(147,82,0)"/>
<polygon points="225.0,465.0 256.0,480.0 285.0,520.0 305.0,560.0 300.0,590.0 285.0,585.0 262.0,545.0 240.0,505.0" fill="rgb(178,107,0)"/>
<polygon points="201.0,455.0 215.0,455.0 224.0,487.0 244.0,516.0 264.0,544.0 281.0,573.0 284.0,601.0 270.0,604.0 258.0,590.0 244.0,573.0 230.0,544.0 213.0,516.0 201.0,487.0" fill="rgb(118,15,0)"/>
<polygon points="242.0,526.0 265.0,555.0 280.0,578.0 283.0,601.0 271.0,604.0 251.0,578.0 238.0,545.0" fill="rgb(108,36,0)"/>
<polygon points="265.0,590.0 280.0,590.0 282.0,604.0 268.0,604.0" fill="rgb(97,18,0)"/>
<polygon points="250.0,490.0 262.0,500.0 280.0,525.0 297.0,560.0 298.0,575.0 290.0,578.0 275.0,550.0 258.0,520.0 245.0,495.0" fill="rgb(232,107,0)"/>
<polygon points="280.0,578.0 330.0,590.0 330.0,619.0 290.0,615.0" fill="rgb(128,125,0)"/>
<polygon points="295.0,555.0 382.0,555.0 382.0,675.0 316.0,668.0 300.0,640.0 295.0,600.0" fill="rgb(112,125,0)"/>
<polygon points="238.0,600.0 290.0,612.0 318.0,640.0 318.0,668.0 305.0,655.0 260.0,620.0 240.0,615.0" fill="rgb(139,107,0)"/>
<polygon points="280.0,622.0 318.0,630.0 318.0,640.0 285.0,636.0" fill="rgb(89,54,0)"/>
</g></g>
<g filter="url(#fg)"><rect x="140" y="200" width="1260" height="700" fill="#000"/>
<polygon points="330.0,630.0 345.0,622.0 360.0,628.0 371.0,640.0 371.0,668.0 335.0,668.0" fill="rgb(204,0,0)"/>
<polygon points="310.0,553.0 320.0,555.0 340.0,580.0 355.0,600.0 370.0,615.0 372.0,632.0 355.0,628.0 340.0,610.0 322.0,590.0 310.0,570.0" fill="rgb(143,0,0)"/>
<polygon points="300.0,575.0 315.0,578.0 330.0,600.0 330.0,620.0 315.0,615.0 300.0,595.0" fill="rgb(128,0,0)"/>
<polygon points="358.0,551.0 383.0,551.0 383.0,577.0 370.0,580.0 360.0,570.0" fill="rgb(153,0,0)"/>
<polygon points="365.0,580.0 383.0,580.0 383.0,610.0 372.0,615.0 365.0,600.0" fill="rgb(133,0,0)"/>
<polygon points="372.0,612.0 379.0,621.0 394.0,627.0 405.0,631.0 420.0,633.0 438.0,644.0 440.0,655.0 431.0,670.0 408.0,681.0 394.0,677.0 372.0,670.0" fill="rgb(217,0,0)"/>
<polygon points="405.0,656.0 425.0,656.0 425.0,685.0 405.0,685.0" fill="rgb(112,0,0)"/>
</g>
</g>
<path d="M157.5,251.5 L165.0,253.0 L180.0,257.0 L190.0,259.5 L195.0,255.0 L197.0,245.0 L198.8,235.0 L778.8,235.0 L778.8,225.8 L788.8,225.8 L790.0,240.8 L810.0,247.0 L830.0,245.8 L842.5,253.2 L860.0,258.2 L872.5,255.8 L890.0,262.0 L900.0,262.0 L877.5,272.0 L857.5,284.5 L842.5,294.5 L855.0,295.0 L870.0,296.0 L880.0,296.0 L900.0,292.0 L911.0,287.4 L924.0,281.9 L920.4,293.0 L933.3,291.1 L944.4,298.5 L962.9,296.7 L977.7,294.8 L994.4,293.9 L996.2,300.4 L1009.2,302.2 L1012.9,309.6 L1016.6,314.2 L1003.6,315.2 L987.0,312.4 L974.0,313.3 L962.9,315.2 L953.7,317.0 L946.3,324.4 L938.9,333.7 L931.5,348.5 L929.6,352.2 L939.8,357.7 L937.0,372.5 L934.2,391.0 L935.2,409.5 L939.8,426.2 L948.1,428.0 L959.2,424.3 L964.8,413.2 L969.4,402.1 L966.6,387.3 L962.9,372.5 L962.9,361.4 L966.6,350.3 L972.2,341.1 L977.7,331.8 L983.3,322.6 L992.5,317.0 L998.1,318.9 L1007.3,322.6 L1025.8,331.8 L1029.5,339.2 L1027.7,354.0 L1022.1,365.1 L1018.4,372.5 L1025.8,372.5 L1035.1,365.1 L1042.5,367.0 L1046.2,383.6 L1048.0,394.7 L1042.5,405.8 L1033.2,416.9 L1027.7,428.0 L1040.6,433.6 L1060.0,433.0 L1073.9,425.2 L1087.9,420.6 L1104.9,414.4 L1118.8,405.1 L1121.9,398.9 L1118.8,391.2 L1121.9,386.5 L1146.7,383.8 L1151.3,386.2 L1168.4,383.8 L1177.6,377.6 L1179.2,368.4 L1176.1,363.7 L1188.5,354.4 L1199.3,345.1 L1208.6,340.5 L1278.3,339.7 L1279.8,332.8 L1289.1,331.2 L1296.8,325.0 L1303.0,318.8 L1304.6,308.0 L1309.2,298.7 L1317.0,287.9 L1326.3,275.5 L1330.9,277.0 L1332.4,283.2 L1346.4,278.6 L1357.2,286.3 L1357.2,320.4 L1363.4,325.0 L1366.5,335.9 L1372.7,340.5 L1372.7,346.7 L1363.4,349.8 L1349.5,354.4 L1335.5,354.4 L1329.3,365.3 L1317.0,368.4 L1304.6,374.6 L1298.4,382.3 L1293.7,390.0 L1290.7,397.4 L1284.5,402.0 L1289.1,412.9 L1295.3,419.1 L1298.4,425.2 L1303.0,422.0 L1306.0,416.7 L1310.8,418.3 L1310.0,424.0 L1301.5,429.9 L1292.2,428.3 L1282.9,431.4 L1273.6,434.5 L1261.2,436.1 L1245.8,438.4 L1234.9,442.3 L1228.7,446.9 L1224.0,452.0 L1227.2,462.4 L1225.6,477.9 L1217.9,487.2 L1208.6,499.6 L1200.0,490.0 L1196.0,484.0 L1199.0,493.0 L1204.0,505.0 L1204.3,510.0 L1201.2,523.2 L1193.0,538.0 L1186.0,548.0 L1184.2,554.2 L1190.4,572.8 L1195.0,583.6 L1195.0,596.0 L1179.6,605.3 L1170.3,611.5 L1154.8,617.6 L1144.0,631.6 L1133.1,634.7 L1125.0,641.0 L1115.0,652.0 L1102.5,662.5 L1085.0,675.0 L1076.0,690.0 L1068.6,707.0 L1066.5,716.6 L1070.8,726.2 L1075.0,743.3 L1081.4,760.3 L1085.7,775.2 L1092.1,792.3 L1097.4,811.4 L1098.5,828.5 L1096.3,847.6 L1092.1,858.3 L1085.7,862.6 L1076.1,862.6 L1070.8,854.0 L1062.3,839.1 L1058.0,826.3 L1051.6,817.8 L1045.2,805.0 L1041.0,792.3 L1042.0,779.5 L1041.0,766.7 L1032.4,756.0 L1023.9,745.4 L1013.3,734.7 L1006.9,735.8 L992.0,741.1 L985.6,743.3 L981.3,734.7 L972.8,726.2 L960.0,723.0 L950.0,723.8 L940.0,727.5 L932.5,728.8 L930.0,717.5 L922.5,725.0 L903.3,727.0 L898.8,732.6 L905.5,732.6 L906.7,738.2 L900.0,748.3 L903.3,755.0 L908.9,759.5 L902.2,764.0 L898.8,759.5 L892.0,755.0 L886.5,758.4 L877.5,755.0 L869.7,759.5 L864.0,752.8 L852.9,742.7 L847.3,740.4 L841.6,742.7 L830.4,745.0 L821.5,741.0 L810.0,741.6 L802.5,742.5 L790.0,747.5 L780.0,757.5 L765.0,765.0 L752.5,770.0 L742.5,777.5 L733.8,785.0 L730.0,795.0 L726.2,805.0 L728.8,810.0 L730.0,825.0 L735.0,840.0 L735.0,842.5 L715.0,840.0 L697.5,830.0 L692.5,817.5 L687.5,802.5 L677.5,787.5 L667.5,770.0 L660.0,755.0 L645.0,742.5 L627.5,741.2 L617.5,750.0 L610.0,763.8 L600.0,757.5 L590.0,750.0 L580.0,740.0 L575.0,722.5 L560.0,707.5 L545.0,692.5 L537.5,686.0 L505.0,688.8 L505.0,701.2 L442.5,701.2 L365.0,668.0 L316.2,668.8 L312.5,657.5 L305.0,645.0 L295.0,637.5 L287.5,631.2 L272.5,623.8 L260.0,618.8 L243.8,615.0 L242.5,600.0 L240.0,595.0 L227.5,580.0 L216.2,565.0 L216.2,552.5 L205.0,540.0 L205.0,522.5 L190.0,512.5 L177.5,497.5 L175.0,477.5 L163.8,460.0 L168.8,440.0 L167.0,419.5 L163.8,412.0 L161.2,397.0 L165.0,382.0 L167.5,367.0 L170.0,347.0 L172.5,327.0 L173.8,312.0 L172.5,307.0 L173.8,297.0 L172.5,289.5 L167.5,278.0 L160.0,262.0 Z" fill="none" stroke="#000" stroke-width="4.0" stroke-linejoin="round"/>
<g fill="none" stroke="#000" stroke-width="3.8" stroke-linejoin="round" stroke-linecap="round">
<polyline points="173.8,308.2 180.0,308.2 193.8,312.0 200.0,323.2 208.8,325.8 225.0,323.2 250.0,320.8 270.0,317.0 290.0,314.5 320.0,314.5"/>
<polyline points="320.0,235.0 320.0,314.5"/>
<polyline points="320.0,314.5 322.5,315.8 330.0,323.2 328.8,332.0 322.5,344.5 316.2,357.0 321.2,364.5 320.0,372.0 320.0,419.5"/>
<polyline points="167.0,419.5 445.0,419.5"/>
<polyline points="340.0,235.0 340.0,262.0 347.5,272.0 362.5,287.0 375.0,297.0 372.5,309.5 371.2,324.5 375.0,328.2 382.5,322.0 390.0,332.0 396.2,344.5 405.0,354.5 415.0,352.0 437.5,350.8 442.5,344.5 445.0,340.8"/>
<polyline points="445.0,340.8 445.0,445.8"/>
<polyline points="445.0,340.8 592.5,340.8"/>
<polyline points="592.5,235.0 592.5,445.8"/>
<polyline points="445.0,445.8 634.8,445.8"/>
<polyline points="487.0,445.8 487.0,701.2"/>
<polyline points="634.8,445.8 634.8,550.8"/>
<polyline points="634.8,472.0 772.5,472.0"/>
<polyline points="381.1,550.8 791.8,550.8"/>
<polyline points="614.7,550.8 614.7,563.9 678.1,563.9"/>
<polyline points="613.8,563.9 613.8,683.5"/>
<polyline points="538.3,683.5 613.8,683.5"/>
<polyline points="678.1,563.9 677.5,616.2 690.0,620.0 700.0,625.0 720.0,632.5 737.5,637.5 755.0,638.8 770.0,632.5 780.0,632.5 795.0,640.0 803.8,641.2"/>
<polyline points="803.8,641.2 803.8,656.2 803.8,680.0 810.0,692.5 812.5,710.0 810.0,730.0 807.5,741.2"/>
<polyline points="803.8,655.5 866.0,655.5"/>
<polyline points="772.5,472.5 780.0,477.5 783.8,487.5 790.0,493.8 791.8,500.0 791.8,563.9 795.9,592.8 795.0,640.0"/>
<polyline points="767.5,456.8 855.0,456.8 860.0,460.0"/>
<polyline points="747.5,400.8 748.8,403.2 752.5,412.0 760.0,427.0 765.0,445.0 767.5,456.8 772.5,472.5"/>
<polyline points="592.5,393.2 710.0,393.2 720.0,399.5 735.0,398.2 747.5,400.8"/>
<polyline points="753.8,380.0 752.5,392.0 747.5,400.8"/>
<polyline points="592.5,316.1 750.0,316.1"/>
<polyline points="737.5,235.0 740.0,259.5 745.0,284.5 750.0,316.0"/>
<polyline points="750.0,316.0 745.0,320.8 752.5,329.5 753.8,380.1"/>
<polyline points="753.8,380.1 861.2,380.1"/>
<polyline points="842.5,294.5 837.5,299.5 830.0,314.5 827.5,327.0 830.0,347.0 840.0,354.5 855.0,364.5 861.2,377.0 861.2,380.0 865.0,392.0 875.0,407.0 885.0,419.5 877.5,434.5 867.5,442.0 865.0,450.0 857.5,460.0 857.5,475.0 872.5,492.5 885.0,505.0 880.0,515.0 890.0,530.0 900.0,540.0 905.0,550.0 900.0,565.0 890.0,580.0 885.0,595.0 877.5,610.0 867.5,630.0 865.0,647.5 865.0,655.0 867.5,675.0 860.0,687.5 853.8,708.8"/>
<polyline points="875.0,406.4 935.2,406.4"/>
<polyline points="870.0,296.0 890.0,302.0 910.0,307.0 930.0,317.0 937.5,332.0 935.0,342.0"/>
<polyline points="941.7,427.0 941.7,470.0 940.0,497.5 937.5,507.5 932.5,517.5 927.5,532.5"/>
<polyline points="905.0,552.5 915.0,550.0 922.5,540.0 927.5,532.5 945.0,527.5 960.0,525.0 972.5,520.0 985.0,507.5 997.5,500.0 1010.0,500.0 1022.5,506.2 1037.5,507.5 1045.0,515.0 1052.5,500.0 1065.0,490.0 1075.5,484.0 1080.0,475.0 1083.2,471.7 1084.8,454.7 1087.9,454.7"/>
<polyline points="941.7,428.2 997.5,428.0 1027.5,428.2"/>
<polyline points="998.0,428.0 998.0,500.0"/>
<polyline points="1087.9,420.6 1087.9,478.7"/>
<polyline points="1087.9,478.7 1191.6,478.7"/>
<polyline points="1104.9,414.4 1104.9,419.8 1197.8,419.8 1202.4,425.2 1205.5,433.0 1214.8,439.2 1228.7,446.9"/>
<polyline points="1207.1,437.6 1205.5,446.9 1200.9,451.6 1204.0,460.9 1210.2,468.6 1199.3,476.3 1191.6,478.7"/>
<polyline points="1191.6,478.7 1191.6,513.5"/>
<polyline points="900.0,563.8 925.0,563.8 927.5,560.0 1020.0,562.5 1184.2,563.5"/>
<polyline points="1020.0,562.5 1035.6,555.7 1046.4,546.4 1055.7,540.2"/>
<polyline points="1045.0,515.0 1050.0,530.0 1055.7,540.2"/>
<polyline points="1055.7,540.2 1065.0,546.4 1080.5,541.8 1092.9,535.6 1100.6,523.2 1106.4,513.5 1114.2,502.6 1121.9,493.4 1128.1,484.0"/>
<polyline points="1109.5,478.7 1109.5,490.3 1125.0,484.0 1132.8,484.0 1143.6,493.4 1152.9,493.4 1162.2,501.1 1159.1,513.5 1170.0,522.0"/>
<polyline points="886.2,603.2 1035.2,603.2"/>
<polyline points="1009.6,603.2 1015.5,592.9 1027.9,586.7 1043.3,577.4 1058.8,569.7 1063.5,563.5"/>
<polyline points="1035.2,603.2 1048.0,599.1 1077.4,600.6 1083.6,608.4 1106.8,609.1 1128.5,633.1"/>
<polyline points="1033.0,604.0 1040.0,620.0 1052.5,640.0 1062.5,655.0 1072.0,672.0 1080.0,676.0"/>
<polyline points="926.2,603.2 922.5,663.0 922.5,725.0"/>
<polyline points="981.2,603.2 987.5,630.0 991.2,663.0 992.5,680.0 991.2,708.8"/>
<polyline points="937.5,708.2 991.2,708.2"/>
<polyline points="937.5,708.2 940.0,727.5"/>
<polyline points="991.2,710.0 994.0,717.7 1053.7,722.0 1058.0,715.6 1066.5,716.6"/>
<polyline points="853.8,708.8 895.0,708.8 893.8,725.0"/>
<polyline points="791.8,563.9 886.3,563.9 884.0,570.0 882.0,577.0 895.8,577.0"/>
<polyline points="256.2,419.5 256.2,498.8 370.0,602.5"/>
<polyline points="381.1,419.5 381.1,575.0 377.5,577.5 368.8,576.2 367.5,590.0 370.0,602.5"/>
<polyline points="370.0,602.5 375.0,614.0 376.0,625.0 370.0,637.5 367.5,650.0 371.0,660.0 365.0,668.0"/>
<polyline points="1239.6,342.0 1238.0,362.2 1239.6,377.6 1241.1,385.0 1238.0,400.3 1236.5,419.8 1234.9,442.3"/>
<polyline points="1277.0,340.0 1276.7,346.7 1275.2,352.9 1267.4,359.1 1261.2,376.1 1256.6,391.6 1258.0,400.3"/>
<polyline points="1238.0,400.3 1283.0,400.3 1290.7,397.4"/>
<polyline points="1287.5,332.8 1290.0,360.0 1292.2,387.0 1290.7,397.4"/>
<polyline points="1236.5,419.8 1272.1,419.8 1279.8,422.2 1282.9,429.9"/>
<polyline points="1272.1,419.8 1273.6,434.5"/>
</g>
<polygon points="189,242.4 198.3,238.3 206.6,241.4 206.6,248.6 203,252 210.7,261 208.6,271.3 208.6,279.6 204.5,285.8 196.3,288.9 192.1,285.8 190.1,277.5 194.2,271.3 196.3,265.1 194.2,259 198.3,253.8 192.1,248.6 189,245.5" fill="#000"/>
<polyline points="196,240 199,236" fill="none" stroke="#000" stroke-width="4" stroke-linejoin="round" stroke-linecap="round"/>
<polygon points="203,521 208,519 212,524 210,530 215,535 212,540 207,537 205,530 202,526" fill="#000"/>
<polyline points="930,352 940,340 948,330 953,322" fill="none" stroke="#000" stroke-width="3" stroke-linejoin="round" stroke-linecap="round"/>
<ellipse cx="983" cy="340" rx="2.5" ry="5" fill="#000"/>
<polyline points="1092,866 1086,870 1078,874 1068,877 1058,879 1050,881" fill="none" stroke="#a9f5e1" stroke-width="2.2" stroke-dasharray="3 1.5"/>
<ellipse cx="915" cy="262" rx="8" ry="2.2" transform="rotate(-22 915 262)" fill="#9c4632" stroke="#ff80e0" stroke-width="0.8"/>
<ellipse cx="262" cy="624" rx="5" ry="1.5" fill="#f2989a"/>
<ellipse cx="272" cy="636" rx="1.5" ry="1.5" fill="#fba852"/>
<ellipse cx="285" cy="633" rx="2" ry="1.2" fill="#bdb000"/>
<ellipse cx="289" cy="645" rx="1.2" ry="2.2" fill="#bdb000"/>
<polyline points="1186.6,482.3 1183.7,486.6 1173.5,491 1170.6,501.2 1172.1,510 1164.8,515.8 1161.9,518.7 1169.2,524.5 1167.7,533.3 1164.8,542 1172.1,547.9 1176.4,553.7 1184,555" fill="none" stroke="#000" stroke-width="4" stroke-linejoin="round" stroke-linecap="round"/>
<polyline points="1189.6,483.7 1180.8,489.6 1177.9,498.3 1180.8,510 1183.7,517.3 1188.1,521.6 1186.6,530.4 1183.7,539.1 1183.7,547.9" fill="none" stroke="#000" stroke-width="3.5" stroke-linejoin="round" stroke-linecap="round"/>
<polyline points="1164,516 1153,508" fill="none" stroke="#000" stroke-width="4.5" stroke-linejoin="round" stroke-linecap="round"/>
<polyline points="1168,533 1157,526" fill="none" stroke="#000" stroke-width="4.5" stroke-linejoin="round" stroke-linecap="round"/>
<polyline points="1165,542 1156,537" fill="none" stroke="#000" stroke-width="4" stroke-linejoin="round" stroke-linecap="round"/>
<polyline points="1172,548 1162,551" fill="none" stroke="#000" stroke-width="4" stroke-linejoin="round" stroke-linecap="round"/>
<polyline points="1191,513 1201,516" fill="none" stroke="#000" stroke-width="3" stroke-linejoin="round" stroke-linecap="round"/>
<polyline points="1194,482 1197,491 1201,495 1205,499" fill="none" stroke="#000" stroke-width="3.5" stroke-linejoin="round" stroke-linecap="round"/>
<polyline points="1226,457 1240,452 1255,448 1270,443" fill="none" stroke="#000" stroke-width="5" stroke-linejoin="round" stroke-linecap="round"/>
<circle cx="1305" cy="433" r="2.5" fill="#000"/>
<circle cx="1311" cy="437" r="2.5" fill="#000"/>
<polyline points="1306,418 1309,414 1312,416" fill="none" stroke="#000" stroke-width="3" stroke-linejoin="round" stroke-linecap="round"/>
<polyline points="1168,569 1180,575 1176,582 1186,590 1180,598 1170,603 1165,610" fill="none" stroke="#000" stroke-width="4" stroke-linejoin="round" stroke-linecap="round"/>
<polyline points="1186,556 1190,568" fill="none" stroke="#000" stroke-width="3" stroke-linejoin="round" stroke-linecap="round"/>
<ellipse cx="889" cy="730" rx="8" ry="4" fill="none" stroke="#000" stroke-width="3"/>
<polyline points="900,735 906,742 903,750 908,757" fill="none" stroke="#000" stroke-width="3" stroke-linejoin="round" stroke-linecap="round"/>
<polyline points="930,716 931,727" fill="none" stroke="#000" stroke-width="3" stroke-linejoin="round" stroke-linecap="round"/>
<circle cx="1044" cy="793" r="4" fill="#000"/>
<circle cx="1053" cy="818" r="3" fill="#000"/>
<circle cx="1078" cy="861" r="3.5" fill="#000"/>
<polyline points="742,778 752,771 765,765 778,758 790,748" fill="none" stroke="#000" stroke-width="5" stroke-linejoin="round" stroke-linecap="round"/>
<polyline points="727,806 729,800 732,793" fill="none" stroke="#000" stroke-width="4" stroke-linejoin="round" stroke-linecap="round"/>
</g>
</svg>
<div class="t t1" style="top:25.7px">Emerald ash borer: Avg date of OW gen. egg laying w/ climate<br>stress exclusion 2026</div>
<div class="t t2" style="top:123px">Maps and modeling 01/09/2026 by Oregon State University IPPC USPEST.ORG and<br>USDA-APHIS-PPQ; climate data from OSU PRISM Climate Group</div>
<div class="lt" style="top:328px">Avg date of OW<br>gen. egg laying</div>
<div class="sw" style="left:1417px;top:393.00px;background:#4d4d4d"></div>
<div class="lb" style="left:1454px;top:394.00px;letter-spacing:1.11px">excl.-sev.</div>
<div class="sw" style="left:1417px;top:418.44px;background:#b3b3b3"></div>
<div class="lb" style="left:1454px;top:419.44px;letter-spacing:1.33px">excl.-mod.</div>
<div class="sw" style="left:1417px;top:443.88px;background:#a9f5e1"></div>
<div class="lb" style="left:1454px;top:444.88px;letter-spacing:0.80px">Feb-10</div>
<div class="sw" style="left:1417px;top:469.32px;background:#8ee4d0"></div>
<div class="lb" style="left:1454px;top:470.32px;letter-spacing:0.80px">Feb-17</div>
<div class="sw" style="left:1417px;top:494.76px;background:#70d3c2"></div>
<div class="lb" style="left:1454px;top:495.76px;letter-spacing:0.80px">Feb-24</div>
<div class="sw" style="left:1417px;top:520.20px;background:#b6fbba"></div>
<div class="lb" style="left:1454px;top:521.20px;letter-spacing:1.20px">Mar-03</div>
<div class="sw" style="left:1417px;top:545.64px;background:#8dcd92"></div>
<div class="lb" style="left:1454px;top:546.64px;letter-spacing:1.20px">Mar-10</div>
<div class="sw" style="left:1417px;top:571.08px;background:#66a66b"></div>
<div class="lb" style="left:1454px;top:572.08px;letter-spacing:1.20px">Mar-17</div>
<div class="sw" style="left:1417px;top:596.52px;background:#3a7a3e"></div>
<div class="lb" style="left:1454px;top:597.52px;letter-spacing:1.20px">Mar-24</div>
<div class="sw" style="left:1417px;top:621.96px;background:#134f14"></div>
<div class="lb" style="left:1454px;top:622.96px;letter-spacing:1.20px">Mar-31</div>
<div class="sw" style="left:1417px;top:647.40px;background:#ccff00"></div>
<div class="lb" style="left:1454px;top:648.40px;letter-spacing:0.80px">Apr-07</div>
<div class="sw" style="left:1417px;top:672.84px;background:#a9ef00"></div>
<div class="lb" style="left:1454px;top:673.84px;letter-spacing:0.80px">Apr-14</div>
<div class="sw" style="left:1417px;top:698.28px;background:#82e000"></div>
<div class="lb" style="left:1454px;top:699.28px;letter-spacing:0.80px">Apr-21</div>
<div class="sw" style="left:1417px;top:723.72px;background:#55d400"></div>
<div class="lb" style="left:1454px;top:724.72px;letter-spacing:0.80px">Apr-28</div>
<div class="sw" style="left:1417px;top:749.16px;background:#ffff00"></div>
<div class="lb" style="left:1454px;top:750.16px;letter-spacing:1.40px">May-05</div>
<div class="sw" style="left:1577px;top:393.00px;background:#dcd800"></div>
<div class="lb" style="left:1613px;top:394.00px;letter-spacing:1.40px">May-12</div>
<div class="sw" style="left:1577px;top:418.44px;background:#bdb000"></div>
<div class="lb" style="left:1613px;top:419.44px;letter-spacing:1.40px">May-19</div>
<div class="sw" style="left:1577px;top:443.88px;background:#9a8410"></div>
<div class="lb" style="left:1613px;top:444.88px;letter-spacing:1.40px">May-26</div>
<div class="sw" style="left:1577px;top:469.32px;background:#fdd38a"></div>
<div class="lb" style="left:1613px;top:470.32px;letter-spacing:0.60px">Jun-02</div>
<div class="sw" style="left:1577px;top:494.76px;background:#fcbd6c"></div>
<div class="lb" style="left:1613px;top:495.76px;letter-spacing:0.60px">Jun-09</div>
<div class="sw" style="left:1577px;top:520.20px;background:#fba852"></div>
<div class="lb" style="left:1613px;top:521.20px;letter-spacing:0.60px">Jun-16</div>
<div class="sw" style="left:1577px;top:545.64px;background:#fd9434"></div>
<div class="lb" style="left:1613px;top:546.64px;letter-spacing:0.60px">Jun-23</div>
<div class="sw" style="left:1577px;top:571.08px;background:#ff7f1a"></div>
<div class="lb" style="left:1613px;top:572.08px;letter-spacing:0.60px">Jun-30</div>
<div class="sw" style="left:1577px;top:596.52px;background:#f4c8cb"></div>
<div class="lb" style="left:1613px;top:597.52px;letter-spacing:0.60px">Jul-07</div>
<div class="sw" style="left:1577px;top:621.96px;background:#f2989a"></div>
<div class="lb" style="left:1613px;top:622.96px;letter-spacing:0.60px">Jul-14</div>
<div class="sw" style="left:1577px;top:647.40px;background:#f46666"></div>
<div class="lb" style="left:1613px;top:648.40px;letter-spacing:0.60px">Jul-21</div>
<div class="sw" style="left:1577px;top:672.84px;background:#f53434"></div>
<div class="lb" style="left:1613px;top:673.84px;letter-spacing:0.60px">Jul-28</div>
<div class="sw" style="left:1577px;top:698.28px;background:#e6b4ad"></div>
<div class="lb" style="left:1613px;top:699.28px;letter-spacing:1.00px">Aug-04</div>
<div class="sw" style="left:1577px;top:723.72px;background:#c98b82"></div>
<div class="lb" style="left:1613px;top:724.72px;letter-spacing:1.40px">Aug-11</div>
<div class="sw" style="left:1577px;top:749.16px;background:#b06a5c"></div>
<div class="lb" style="left:1613px;top:750.16px;letter-spacing:1.00px">Aug-18</div>
<div class="sw" style="left:1704px;top:393.00px;background:#9c4632"></div>
<div class="lb" style="left:1740px;top:394.00px;letter-spacing:1.00px">Aug-25</div>
<div class="sw" style="left:1704px;top:418.44px;background:#ffaad8"></div>
<div class="lb" style="left:1740px;top:419.44px;letter-spacing:1.00px">Sep-01</div>
<div class="sw" style="left:1704px;top:443.88px;background:#ff80e0"></div>
<div class="lb" style="left:1740px;top:444.88px;letter-spacing:1.00px">Sep-08</div>
<div class="sw" style="left:1704px;top:469.32px;background:#ff55ee"></div>
<div class="lb" style="left:1740px;top:470.32px;letter-spacing:1.00px">Sep-15</div>
<div class="sw" style="left:1704px;top:494.76px;background:#ff2af2"></div>
<div class="lb" style="left:1740px;top:495.76px;letter-spacing:1.00px">Sep-22</div>
<div class="sw" style="left:1704px;top:520.20px;background:#ff00ff"></div>
<div class="lb" style="left:1740px;top:521.20px;letter-spacing:1.00px">Sep-29</div>
<div class="sw" style="left:1704px;top:545.64px;background:#dfbce5"></div>
<div class="lb" style="left:1740px;top:546.64px;letter-spacing:1.40px">Oct-06</div>
<div class="sw" style="left:1704px;top:571.08px;background:#c896d8"></div>
<div class="lb" style="left:1740px;top:572.08px;letter-spacing:1.40px">Oct-14</div>
<div class="sw" style="left:1704px;top:596.52px;background:#b472c8"></div>
<div class="lb" style="left:1740px;top:597.52px;letter-spacing:1.40px">Oct-21</div>
<div class="sw" style="left:1704px;top:621.96px;background:#a04bb8"></div>
<div class="lb" style="left:1740px;top:622.96px;letter-spacing:1.40px">Oct-27</div>
<div class="sw" style="left:1704px;top:647.40px;background:#b4eafc"></div>
<div class="lb" style="left:1740px;top:648.40px;letter-spacing:1.40px">Nov-04</div>
<div class="sw" style="left:1704px;top:672.84px;background:#86d2ef"></div>
<div class="lb" style="left:1740px;top:673.84px;letter-spacing:1.40px">Nov-12</div>
<div class="sw" style="left:1704px;top:698.28px;background:#56bbe5"></div>
<div class="lb" style="left:1740px;top:699.28px;letter-spacing:1.40px">Nov-20</div>
<div class="sw" style="left:1704px;top:723.72px;background:#2ea6dc"></div>
<div class="lb" style="left:1740px;top:724.72px;letter-spacing:1.40px">Nov-29</div>
<div class="sw" style="left:1704px;top:749.16px;background:#a0c4e6"></div>
<div class="lb" style="left:1740px;top:750.16px;letter-spacing:1.40px">Dec-02</div>
<div class="sw" style="left:1829px;top:393.00px;background:#7890ea"></div>
<div class="lb" style="left:1864px;top:394.00px;letter-spacing:1.40px">Dec-19</div>
</body></html>
